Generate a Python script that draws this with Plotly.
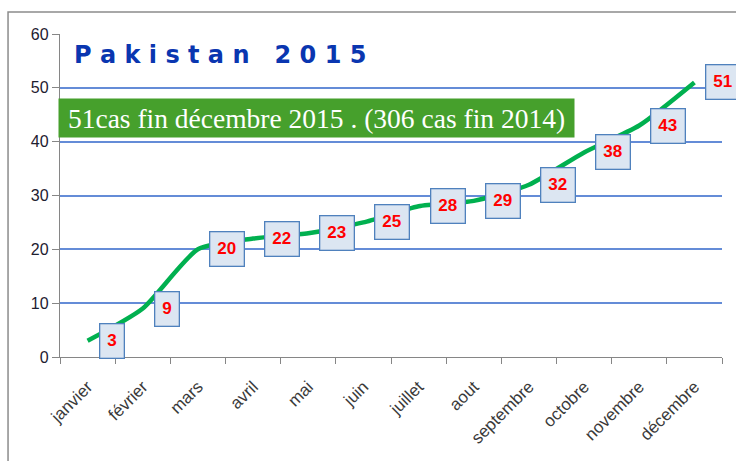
import plotly.graph_objects as go

months = ["janvier", "février", "mars", "avril", "mai", "juin", "juillet",
          "aout", "septembre", "octobre", "novembre", "décembre"]
cases = [3, 9, 20, 22, 23, 25, 28, 29, 32, 38, 43, 51]
y_ticks = [0, 10, 20, 30, 40, 50, 60]
title_text = "P a k i s t a n   2 0 1 5"
banner_text = "51cas fin décembre 2015 . (306 cas fin 2014)"

fig = go.Figure()
fig.add_trace(go.Scatter(
    x=months, y=cases, mode="lines",
    line=dict(color="#00B04F", width=4.5, shape="spline", smoothing=0.6),
    hoverinfo="skip", showlegend=False,
))

annotations = []
for m, v in zip(months, cases):
    annotations.append(dict(
        x=m, y=v, xref="x", yref="y", text="<b>%d</b>" % v,
        showarrow=False, xanchor="left", yanchor="middle", xshift=11,
        font=dict(family="Liberation Sans, Arial", size=17, color="#FF0000"),
        bgcolor="#DCE6F2", bordercolor="#4F81BD", borderwidth=1.3, borderpad=7,
    ))

annotations.append(dict(
    x=0.018, y=0.985, xref="paper", yref="paper", text="<b>" + title_text + "</b>",
    showarrow=False, xanchor="left", yanchor="top",
    font=dict(family="DejaVu Sans, Verdana", size=24, color="#0A36B0"),
))
annotations.append(dict(
    x=-0.003, y=0.74, xref="paper", yref="paper", text=banner_text,
    showarrow=False, xanchor="left", yanchor="middle",
    width=513, height=36, borderpad=1, align="center",
    font=dict(family="Liberation Serif, Times New Roman", size=27.5, color="#FFFFFF"),
    bgcolor="#46A02C",
))

fig.update_layout(
    width=736, height=461,
    margin=dict(l=60, r=14, t=34, b=104, autoexpand=False),
    paper_bgcolor="white", plot_bgcolor="white",
    annotations=annotations,
    shapes=[dict(type="rect", xref="paper", yref="paper",
                 x0=-0.0785, x1=1.027, y0=-0.36, y1=1.068,
                 line=dict(color="#8C8C8C", width=1.5), layer="below")],
    xaxis=dict(
        type="category", range=[-0.5, 11.5], tickangle=-45, automargin=False,
        showline=True, linecolor="#868686", linewidth=1.3,
        ticks="outside", ticklen=6, tickcolor="#868686", tickson="boundaries",
        ticklabelstandoff=12,
        showgrid=False, zeroline=False,
        tickfont=dict(family="Liberation Sans, Arial", size=17, color="#3A3A3A"),
    ),
    yaxis=dict(
        range=[0, 60], tickvals=y_ticks, automargin=False,
        showline=True, linecolor="#868686", linewidth=1.3,
        ticks="outside", ticklen=7, tickcolor="#868686",
        showgrid=True, gridcolor="rgb(100,140,215)", gridwidth=1.5, zeroline=False,
        tickfont=dict(family="Liberation Sans, Arial", size=16, color="#1E2030"),
    ),
)

fig.write_html("out.html", config={"displayModeBar": False},
               post_script="document.body.style.margin='0';")
